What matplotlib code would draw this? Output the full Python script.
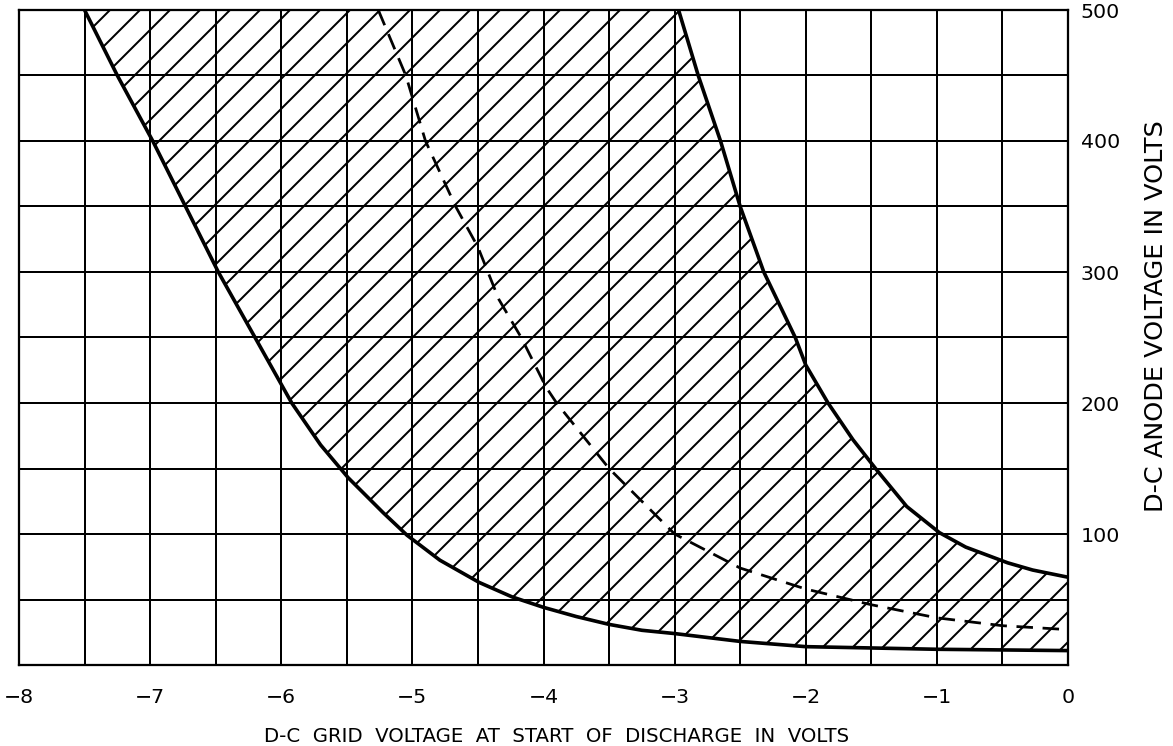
import matplotlib
matplotlib.use("Agg")
import matplotlib.pyplot as plt
from matplotlib.ticker import MultipleLocator

# Grid voltage needed to start discharge vs. anode voltage

# left (lower) boundary of the shaded region
left_x = [-7.5, -7.25, -6.98, -6.73, -6.48, -6.2, -5.92, -5.7, -5.49, -5.22, -5.04, -4.79, -4.49, -4.24,
          -4.0, -3.75, -3.5, -3.25, -3.0, -2.5, -2.0, -1.5, -1.0, -0.5, 0.0]
left_y = [500, 450, 400, 350, 300, 250, 200, 168, 143, 116, 99, 80, 63, 52,
          44, 37, 31, 26.5, 24, 18, 14, 13, 12, 11.5, 11]

# right (upper) boundary of the shaded region
right_x = [-2.97, -2.82, -2.65, -2.5, -2.32, -2.08, -2.0, -1.83, -1.64, -1.46, -1.23, -0.98, -0.78, -0.46, -0.27, 0.0]
right_y = [500, 450, 400, 350, 300, 250, 229, 200, 172, 149, 121, 101, 90, 78, 72.5, 67]

# dashed middle curve
mid_x = [-5.26, -5.05, -4.9, -4.67, -4.5, -4.34, -4.17, -3.98, -3.9, -3.5, -3.0, -2.5, -2.0, -1.5, -1.0, -0.5, 0.0]
mid_y = [500, 450, 400, 350, 319, 279, 250, 212, 200, 150, 100, 74, 58, 46, 36, 30, 27]

x_ticks = [-8, -7, -6, -5, -4, -3, -2, -1, 0]
y_ticks = [100, 200, 300, 400, 500]

plt.rcParams['font.family'] = ['DejaVu Sans']
plt.rcParams['hatch.linewidth'] = 0.8
plt.rcParams['hatch.color'] = 'black'

fig = plt.figure(figsize=(1173 / 180, 746 / 180), dpi=180)
ax = fig.add_axes([19 / 1173, 1 - 665 / 746, (1068 - 19) / 1173, (665 - 10) / 746])

# shaded region: down the left curve, up the right edge, back along the right curve
poly_x = left_x + right_x[::-1]
poly_y = left_y + right_y[::-1]
ax.fill(poly_x, poly_y, facecolor='none', edgecolor='black', hatch='//', linewidth=0, zorder=1)

ax.plot(left_x, left_y, color='black', lw=1.45, zorder=3, solid_joinstyle='round')
ax.plot(right_x, right_y, color='black', lw=1.45, zorder=3, solid_joinstyle='round')
ax.plot(mid_x, mid_y, color='black', lw=1.1, dashes=(6, 3.5), zorder=3)

ax.set_xlim(-8, 0)
ax.set_ylim(0, 500)
ax.set_xticks(x_ticks)
ax.set_yticks(y_ticks)
ax.xaxis.set_minor_locator(MultipleLocator(0.5))
ax.yaxis.set_minor_locator(MultipleLocator(50))
ax.grid(which='both', color='black', lw=0.8, zorder=0)
ax.set_axisbelow(True)

ax.yaxis.tick_right()
ax.yaxis.set_label_position('right')
ax.tick_params(which='both', length=0, labelsize=8.2)
ax.tick_params(axis='x', pad=9)
ax.tick_params(axis='y', pad=5)

for s in ax.spines.values():
    s.set_linewidth(0.9)
    s.set_color('black')

ax.set_xlabel('D-C  GRID  VOLTAGE  AT  START  OF  DISCHARGE  IN  VOLTS', fontsize=7.9)
ax.xaxis.set_label_coords(0.512, -0.095)
ax.set_ylabel('D-C ANODE VOLTAGE IN VOLTS', fontsize=10.2, rotation=90)
ax.yaxis.set_label_coords(1.072, 0.533)

plt.savefig('out.png', dpi=180)
